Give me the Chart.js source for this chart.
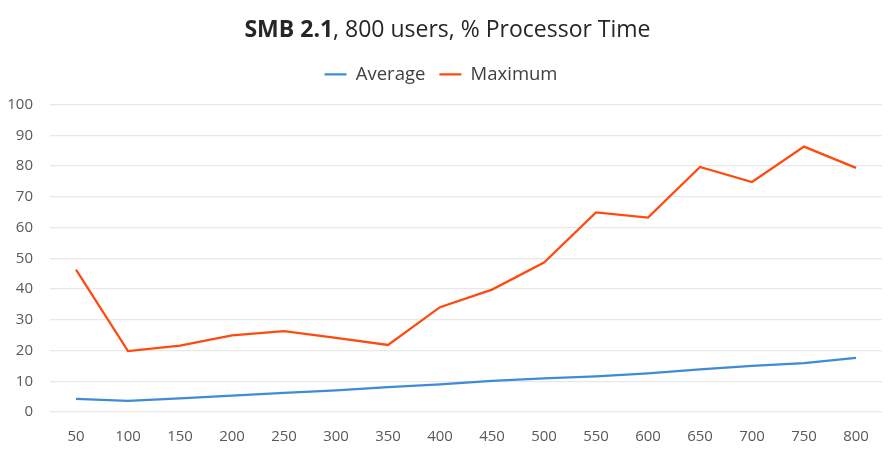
<!DOCTYPE html>
<html lang="en">
<head>
  <meta charset="UTF-8" />
  <title>SMB 2.1, 800 users, % Processor Time</title>
  <script src="https://cdn.jsdelivr.net/npm/chart.js"></script>
  <style>
    html, body { margin: 0; padding: 0; background: #fff; }
    #wrap { position: relative; width: 895px; height: 452px; }
    #titulo {
      position: absolute; top: 12px; left: 0; width: 100%; text-align: center;
      font-family: "Open Sans", sans-serif; font-size: 23px; color: #262626;
    }
    #titulo b { font-weight: 700; }
    canvas { display: block; }
  </style>
</head>
<body>
  <div id="wrap">
    <div id="titulo"><b>SMB 2.1</b>, 800 users, % Processor Time</div>
    <canvas id="grafico" width="895" height="452"></canvas>
  </div>

  <script>
    const usuarios = ['50', '100', '150', '200', '250', '300', '350', '400',
                      '450', '500', '550', '600', '650', '700', '750', '800'];
    const media = [4.3, 3.6, 4.4, 5.3, 6.2, 7.0, 8.1, 9.0,
                   10.1, 10.9, 11.6, 12.6, 13.9, 15.0, 15.9, 17.6];
    const maximo = [46.3, 19.8, 21.6, 24.9, 26.3, 24.1, 21.8, 34.1,
                    39.8, 48.6, 64.9, 63.2, 79.7, 74.8, 86.3, 79.4];

    const fonte = "'Open Sans', sans-serif";
    const corTexto = '#595959';

    // espaço extra abaixo da legenda
    const folgaLegenda = {
      id: 'folgaLegenda',
      beforeInit(chart) {
        const fitOriginal = chart.legend.fit;
        chart.legend.fit = function () {
          fitOriginal.bind(chart.legend)();
          this.height += 11;
        };
      }
    };

    new Chart(document.getElementById('grafico'), {
      type: 'line',
      data: {
        labels: usuarios,
        datasets: [
          { label: 'Average', data: media, borderColor: '#3f8bd6', backgroundColor: '#3f8bd6',
            borderWidth: 2.25, pointRadius: 0, tension: 0 },
          { label: 'Maximum', data: maximo, borderColor: '#ff4a0f', backgroundColor: '#ff4a0f',
            borderWidth: 2.25, pointRadius: 0, tension: 0 }
        ]
      },
      options: {
        responsive: false,
        animation: false,
        layout: { padding: { top: 51, left: 0, right: 13, bottom: 0 } },
        plugins: {
          title: { display: false },
          tooltip: { enabled: false },
          legend: {
            position: 'top',
            labels: {
              usePointStyle: true, pointStyle: 'line', pointStyleWidth: 22,
              color: '#404040', font: { family: fonte, size: 18.5 }, padding: 14
            }
          }
        },
        scales: {
          x: {
            offset: true,
            grid: { display: false, drawTicks: false },
            border: { display: false },
            ticks: { color: corTexto, font: { family: fonte, size: 15 }, maxRotation: 0, padding: 16 },
            afterFit: s => { s.height = 40; }
          },
          y: {
            min: 0, max: 100,
            grid: { color: '#e8e8e8', lineWidth: 1.2, drawTicks: false },
            border: { display: false },
            ticks: { stepSize: 10, color: corTexto, font: { family: fonte, size: 15 }, padding: 17 },
            afterFit: s => { s.width = 50; }
          }
        }
      },
      plugins: [folgaLegenda]
    });
  </script>
</body>
</html>
